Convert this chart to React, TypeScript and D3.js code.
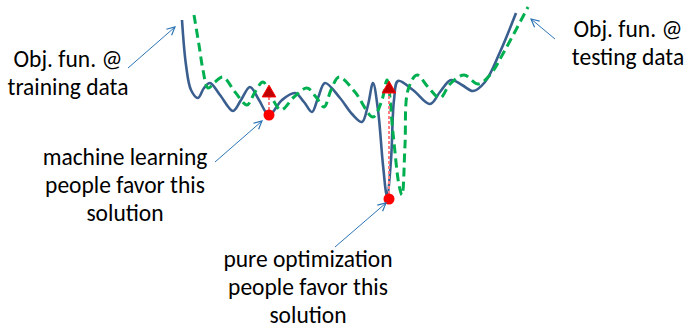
import React from "react";
import * as d3 from "d3";

// Objective function on training data (parameter, objective value)
const trainX = [2, 6, 11, 18, 24, 30, 40, 53, 61, 70, 79, 89, 102, 115, 124, 132, 138, 145, 160, 172, 182, 188, 193, 198, 203, 207, 211, 214, 218, 233, 250, 260, 271, 282, 293, 305, 320, 336];
const trainY = [185, 140, 115, 107, 117, 122, 110, 94, 105, 118, 105, 90, 105, 112, 103, 93, 107, 122, 107, 91, 83, 100, 122, 95, 40, 9, 45, 105, 124, 115, 101, 113, 125, 120, 114, 123, 153, 192];

// Objective function on testing data
const testX = [14, 19, 23, 28, 35, 43, 55, 67, 75, 83, 92, 101, 114, 127, 136, 144, 151, 159, 175, 193, 202, 207, 213, 219, 222, 225, 228, 237, 248, 260, 270, 284, 298, 310, 325, 348];
const testY = [190, 160, 135, 117, 123, 128, 113, 100, 113, 123, 107, 95, 108, 117, 108, 98, 115, 128, 113, 88, 105, 125, 72, 20, 10, 60, 115, 130, 118, 107, 121, 130, 121, 130, 155, 198];

// Solutions: minimum on training (dot) and value on testing (triangle)
const solX = [89, 209];
const solTrain = [90, 6];
const solTest = [112, 116];

// Labels
const labelLines = [
  ["Obj. fun. @", "training data"],
  ["Obj. fun. @", "testing data"],
  ["machine learning", "people favor this", "solution"],
  ["pure optimization", "people favor this", "solution"],
];
const labelCx = [68, 628, 125, 308];
const labelTop = [67, 37, 165, 267];

// Annotation arrows: [x1, y1, x2, y2] (tail -> head)
const arrows = [
  [128, 68, 175, 27],
  [555, 39, 531, 19],
  [215, 162, 262, 121],
  [335, 247, 386, 203],
];

export default function App() {
  const W = 686;
  const H = 330;
  const x = d3.scaleLinear().domain([0, 350]).range([180, 530]);
  const y = d3.scaleLinear().domain([0, 200]).range([205, 5]);

  const line = d3
    .line<[number, number]>()
    .x((d) => x(d[0]))
    .y((d) => y(d[1]))
    .curve(d3.curveCatmullRom.alpha(0.5));

  const trainPts = trainX.map((v, i) => [v, trainY[i]] as [number, number]);
  const testPts = testX.map((v, i) => [v, testY[i]] as [number, number]);

  const tri = d3.symbol().type(d3.symbolTriangle).size(80)();
  const font = "Carlito, Calibri, Lato, 'Open Sans', sans-serif";
  const lineH = 27.8;

  return (
    <svg
      width={W}
      height={H}
      style={{ position: "absolute", left: 0, top: 0, background: "#fff" }}
    >
      <defs>
        <marker
          id="ah"
          viewBox="0 0 10 10"
          refX="9"
          refY="5"
          markerWidth="10"
          markerHeight="10"
          markerUnits="userSpaceOnUse"
          orient="auto"
        >
          <path d="M1,1 L9,5 L1,9" fill="none" stroke="#2e75b6" strokeWidth={1.2} />
        </marker>
      </defs>
      <rect width={W} height={H} fill="#fff" />

      <path d={line(trainPts) || ""} fill="none" stroke="#3a5f8f" strokeWidth={2.6} />
      <path
        d={line(testPts) || ""}
        fill="none"
        stroke="#00b050"
        strokeWidth={3}
        strokeDasharray="9,5"
      />

      {solX.map((s, i) => (
        <g key={i}>
          <line
            x1={x(s)}
            x2={x(s)}
            y1={y(solTrain[i])}
            y2={y(solTest[i])}
            stroke="#ff7c80"
            strokeWidth={2}
            strokeDasharray="3,2"
          />
          <circle cx={x(s)} cy={y(solTrain[i])} r={5.5} fill="#ff0000" />
          <path
            d={tri || ""}
            transform={`translate(${x(s)},${y(solTest[i])})`}
            fill="#c00000"
            stroke="#ff0000"
            strokeWidth={1}
          />
        </g>
      ))}

      {arrows.map((a, i) => (
        <line
          key={i}
          x1={a[0]}
          y1={a[1]}
          x2={a[2]}
          y2={a[3]}
          stroke="#2e75b6"
          strokeWidth={1}
          markerEnd="url(#ah)"
        />
      ))}

      {labelLines.map((lines, i) => (
        <text
          key={i}
          textAnchor="middle"
          fontFamily={font}
          fontSize={23.5}
          fill="#000"
        >
          {lines.map((t, j) => (
            <tspan key={j} x={labelCx[i]} y={labelTop[i] + j * lineH}>
              {t}
            </tspan>
          ))}
        </text>
      ))}
    </svg>
  );
}
